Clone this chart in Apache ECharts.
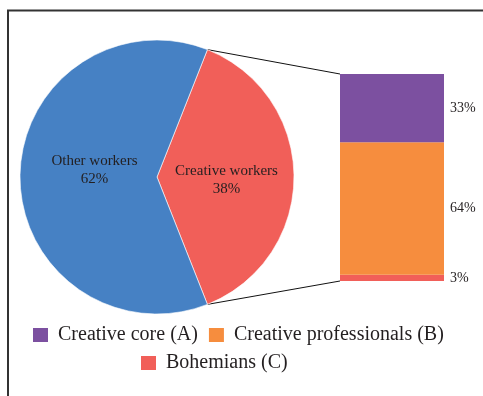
<!DOCTYPE html>
<html><head><meta charset="utf-8">
<script src="https://cdn.jsdelivr.net/npm/echarts@6/dist/echarts.min.js"></script>
<style>html,body{margin:0;padding:0;background:#fff}#c{width:483px;height:396px}</style>
</head><body><div id="c"></div>
<script>
const pieNames = ['Creative workers', 'Other workers'];
const pieValues = [38, 62];
const barNames = ['Creative core (A)', 'Creative professionals (B)', 'Bohemians (C)'];
const barValues = [33, 64, 3];

const FONT = '"Liberation Serif", "DejaVu Serif", serif';
const TXT = '#231f20';
const pieCenter = [157, 177];
const pieRadius = 137;
const startAngle = 68.4;
const gridLeft = 340, gridWidth = 104, gridTop = 74, gridBottom = 115;
const barColors = {'Creative core (A)': '#7c50a0', 'Creative professionals (B)': '#f68d3e', 'Bohemians (C)': '#f15f59'};
const pieColors = ['#f15f59', '#4681c4'];
const pieLabelOffsets = [[-2, 3], [9, -7]];

const chart = echarts.init(document.getElementById('c'), null, {renderer: 'canvas'});

// stack from bottom: C, B, A
const stackOrder = [2, 1, 0];
const barSeries = stackOrder.map(i => ({
  type: 'bar', name: barNames[i], stack: 'total', data: [barValues[i]],
  barWidth: '100%', itemStyle: {color: barColors[barNames[i]]},
  label: {show: true, position: 'right', distance: 6, formatter: '{c}%', fontFamily: FONT, fontSize: 14, color: TXT}
}));

const legendText = {fontFamily: FONT, fontSize: 20, color: TXT, padding: [0, 0, 0, 5]};

chart.setOption({
  animation: false,
  textStyle: {fontFamily: FONT},
  grid: {left: gridLeft, width: gridWidth, top: gridTop, bottom: gridBottom},
  xAxis: {type: 'category', data: [''], show: false},
  yAxis: {type: 'value', min: 0, max: 100, show: false},
  legend: [
    {data: [barNames[0], barNames[1]], left: 33, top: 325, itemWidth: 15, itemHeight: 14, itemGap: 11,
     icon: 'rect', padding: 0, textStyle: legendText},
    {data: [barNames[2]], left: 141, top: 353, itemWidth: 15, itemHeight: 14, padding: 0,
     icon: 'rect', textStyle: legendText}
  ],
  series: [{
    type: 'pie', center: pieCenter, radius: pieRadius, startAngle: startAngle, clockwise: true,
    data: pieNames.map((n, i) => ({name: n, value: pieValues[i], itemStyle: {color: pieColors[i]},
      label: {offset: pieLabelOffsets[i]}})),
    itemStyle: {borderColor: '#fff', borderWidth: 0.6},
    label: {show: true, position: 'inside', formatter: '{b}\n{d}%', fontFamily: FONT, fontSize: 15, color: TXT, lineHeight: 18},
    labelLine: {show: false}, emphasis: {disabled: true}
  }].concat(barSeries)
});

function drawLines() {
  const a1 = startAngle * Math.PI / 180;
  const a2 = (startAngle - 360 * pieValues[0] / (pieValues[0] + pieValues[1])) * Math.PI / 180;
  const p1 = [pieCenter[0] + pieRadius * Math.cos(a1), pieCenter[1] - pieRadius * Math.sin(a1)];
  const p2 = [pieCenter[0] + pieRadius * Math.cos(a2), pieCenter[1] - pieRadius * Math.sin(a2)];
  const yTop = chart.convertToPixel({yAxisIndex: 0}, 100);
  const yBot = chart.convertToPixel({yAxisIndex: 0}, 0);
  chart.setOption({graphic: [
    {type: 'polyline', shape: {points: [[8, 396], [8, 10.5], [483, 10.5]]}, style: {stroke: '#333', lineWidth: 2, fill: null}, z: 10},
    {type: 'line', shape: {x1: p1[0], y1: p1[1], x2: gridLeft, y2: yTop}, style: {stroke: '#111', lineWidth: 1}},
    {type: 'line', shape: {x1: p2[0], y1: p2[1], x2: gridLeft, y2: yBot}, style: {stroke: '#111', lineWidth: 1}}
  ]});
}
drawLines();
</script></body></html>
